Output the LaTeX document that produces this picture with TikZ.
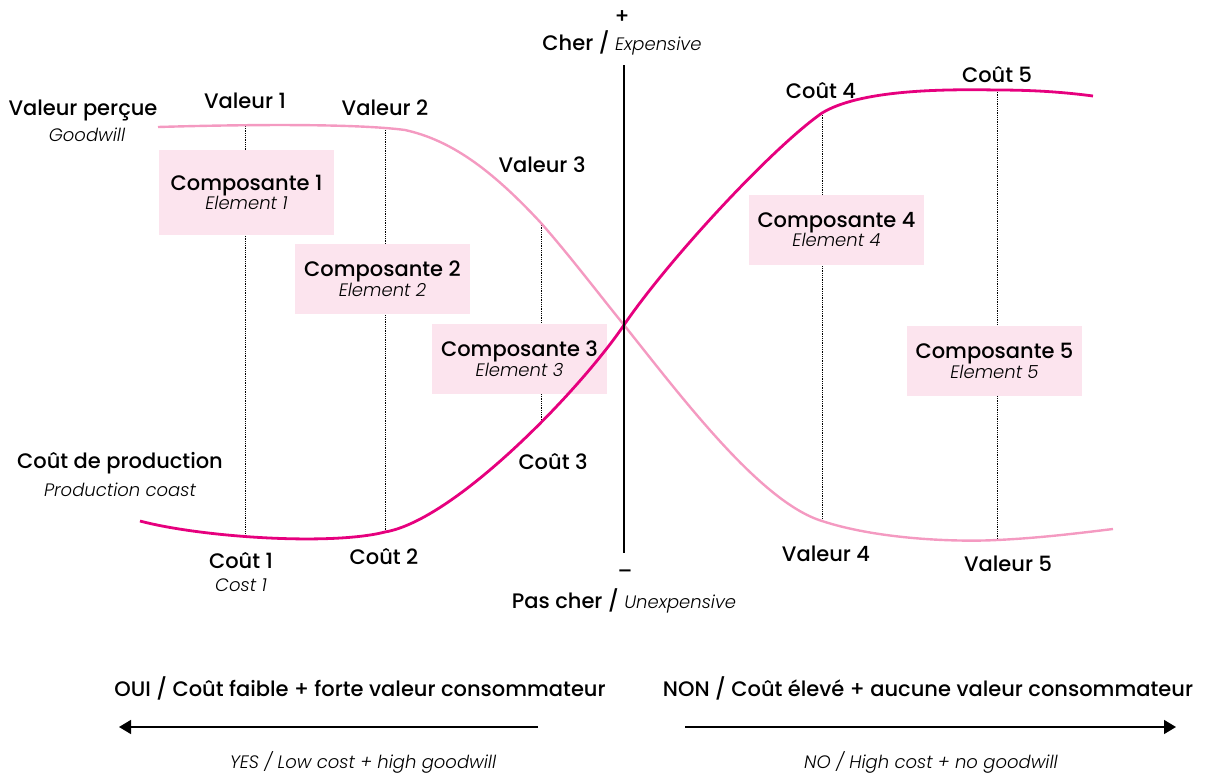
\documentclass[tikz,border=0pt]{standalone}
\usepackage{fontspec}
\setmainfont{Poppins}[UprightFont={* Medium}, ItalicFont={* Light Italic}]
\usetikzlibrary{arrows.meta}
\definecolor{cdark}{HTML}{E6007E}
\definecolor{clight}{HTML}{F49AC1}
\definecolor{cbox}{HTML}{FCE4EE}
\newcommand{\mainsz}{\fontsize{21}{23}\selectfont}
\newcommand{\itsz}{\fontsize{18}{23}\selectfont\itshape}
\tikzset{
  lbl/.style={font=\mainsz, inner sep=0pt, align=center},
  ilbl/.style={font=\itsz, inner sep=0pt, align=center},
  comp/.style={fill=cbox, minimum width=175pt, align=center, inner sep=0pt},
  guide/.style={densely dotted, line width=0.8pt},
  costcurve/.style={cdark, line width=2.8pt},
  valcurve/.style={clight, line width=2.4pt},
  axisline/.style={black, line width=1.1pt},
  bigarrow/.style={line width=1.4pt, -{Triangle[length=12pt,width=14pt]}}
}
\begin{document}
\begin{tikzpicture}[x=1pt,y=-1pt]
\useasboundingbox (0,0) rectangle (1216,774);

% key points
\coordinate (v1) at (245,126);
\coordinate (v2) at (385,128);
\coordinate (v3) at (541,223);
\coordinate (v4) at (822,521);
\coordinate (v5) at (997,540);
\coordinate (c1) at (245,536);
\coordinate (c2) at (385,532);
\coordinate (c3) at (541,423);
\coordinate (c4) at (822,113);
\coordinate (c5) at (997,90);
\coordinate (x0) at (624,325);
\coordinate (ax1) at (624,65);
\coordinate (ax2) at (624,553);

% dotted guides
\draw[guide] (v1) -- (c1);
\draw[guide] (v2) -- (c2);
\draw[guide] (v3) -- (c3);
\draw[guide] (c4) -- (v4);
\draw[guide] (c5) -- (v5);

% component boxes
\node[comp, minimum height=85pt] (k1) at (246.5,192.5) {{\mainsz Composante 1}\\{\itsz Element 1}};
\node[comp, minimum height=70pt] (k2) at (382.5,279) {{\mainsz Composante 2}\\{\itsz Element 2}};
\node[comp, minimum height=70pt] (k3) at (519.5,358.5) {{\mainsz Composante 3}\\{\itsz Element 3}};
\node[comp, minimum height=70pt] (k4) at (836.5,229.5) {{\mainsz Composante 4}\\{\itsz Element 4}};
\node[comp, minimum height=70pt] (k5) at (994.5,360.5) {{\mainsz Composante 5}\\{\itsz Element 5}};

% value curve (light)
\draw[valcurve] (158,127) .. controls (260,124) and (360,124) .. (405,130)
  .. controls (450,140) and (490,168) .. (v3)
  .. controls (570,256) and (598,293) .. (x0)
  .. controls (680,395) and (760,502) .. (v4)
  .. controls (880,540) and (960,542) .. (v5)
  .. controls (1040,538) and (1080,533) .. (1113,529);

% cost curve (dark)
\draw[costcurve] (140,521) .. controls (200,537) and (330,546) .. (c2)
  .. controls (455,520) and (580,390) .. (x0)
  .. controls (669,259) and (772,148) .. (c4)
  .. controls (860,90) and (940,89) .. (c5)
  .. controls (1040,90) and (1070,93) .. (1093,96);

% axis
\draw[axisline] (ax1) -- (ax2);
\node[lbl] (plus) at (622,17) {+};
\node[lbl] (cher) at (622,43) {Cher / {\itsz Expensive}};
\node[lbl] (minus) at (625,574) {–};
\node[lbl] (pascher) at (624,601) {Pas cher / {\itsz Unexpensive}};

% left labels
\node[lbl] (vp) at (83,110) {Valeur perçue};
\node[ilbl] (gw) at (87,135) {Goodwill};
\node[lbl] (cp) at (120,463) {Coût de production};
\node[ilbl] (pc) at (120,490) {Production coast};

% point labels
\node[lbl] (lv1) at (245,101) {Valeur 1};
\node[lbl] (lv2) at (385,108) {Valeur 2};
\node[lbl] (lv3) at (542,165) {Valeur 3};
\node[lbl] (lv4) at (826,554) {Valeur 4};
\node[lbl] (lv5) at (1008,564) {Valeur 5};
\node[lbl] (lc1) at (241,561) {Coût 1};
\node[ilbl] (lc1e) at (241,585) {Cost 1};
\node[lbl] (lc2) at (384,557) {Coût 2};
\node[lbl] (lc3) at (553,462) {Coût 3};
\node[lbl] (lc4) at (821,91) {Coût 4};
\node[lbl] (lc5) at (997,75) {Coût 5};

% bottom
\node[lbl] (oui) at (360,688) {OUI / Coût faible + forte valeur consommateur};
\node[lbl] (non) at (928,688) {NON / Coût élevé + aucune valeur consommateur};
\coordinate (la1) at (538,727);
\coordinate (la2) at (119,727);
\coordinate (ra1) at (685,727);
\coordinate (ra2) at (1176,727);
\draw[bigarrow] (la1) -- (la2);
\draw[bigarrow] (ra1) -- (ra2);
\node[ilbl] (yes) at (363,762) {YES / Low cost + high goodwill};
\node[ilbl] (no) at (931,762) {NO / High cost + no goodwill};
\end{tikzpicture}
\end{document}
